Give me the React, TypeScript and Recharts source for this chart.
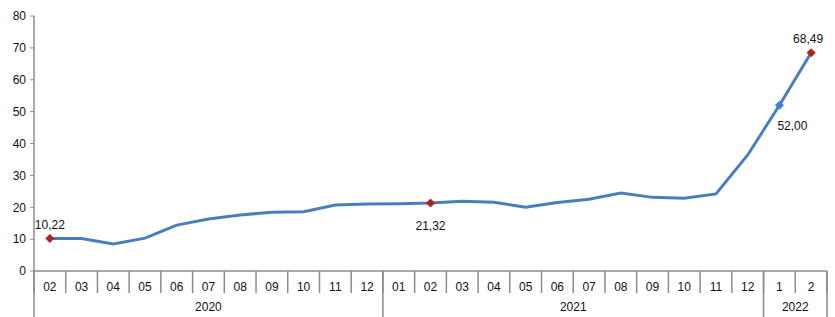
import { Line, LineChart, XAxis, YAxis } from "recharts";

const months = [
  "02", "03", "04", "05", "06", "07", "08", "09", "10", "11", "12",
  "01", "02", "03", "04", "05", "06", "07", "08", "09", "10", "11", "12",
  "1", "2"
];
const years = [
  "2020", "2020", "2020", "2020", "2020", "2020", "2020", "2020", "2020", "2020", "2020",
  "2021", "2021", "2021", "2021", "2021", "2021", "2021", "2021", "2021", "2021", "2021", "2021",
  "2022", "2022"
];
const values = [
  10.22, 10.2, 8.5, 10.3, 14.4, 16.3, 17.6, 18.4, 18.6, 20.7, 21.0,
  21.1, 21.32, 21.9, 21.6, 20.0, 21.5, 22.5, 24.5, 23.1, 22.8, 24.2, 36.4,
  52.0, 68.49
];
// which points get a marker + value label
const markerColors: (string | null)[] = [
  "#b01e1e", null, null, null, null, null, null, null, null, null, null,
  null, "#b01e1e", null, null, null, null, null, null, null, null, null, null,
  "#3a85c8", "#b01e1e"
];
const yTicks = [0, 10, 20, 30, 40, 50, 60, 70, 80];

const data = months.map((m, i) => ({ month: m, year: years[i], value: values[i] }));

const WIDTH = 835;
const HEIGHT = 317;
const PLOT_LEFT = 34;
const PLOT_RIGHT = 827;
const PLOT_BOTTOM = 271;
const BAND = (PLOT_RIGHT - PLOT_LEFT) / months.length;
const AXIS = "#8c8c8c";
const FONT = "'Liberation Sans', Arial, sans-serif";
const FONT_SIZE = 12;

// label offsets relative to the marker, by point index
const labelOffset: Record<number, [number, number]> = {
  0: [0, -9],
  12: [0, 27],
  23: [13, 25],
  24: [-3, -10]
};

function fmt(v: number) {
  return v.toFixed(2).replace(".", ",");
}

function MonthTick(props: any) {
  const { x, payload, index } = props;
  const half = BAND / 2;
  return (
    <g>
      <line x1={x - half} y1={PLOT_BOTTOM} x2={x - half} y2={293} stroke={AXIS} strokeWidth={1.5} />
      {index === months.length - 1 && (
        <line x1={x + half} y1={PLOT_BOTTOM} x2={x + half} y2={293} stroke={AXIS} strokeWidth={1.5} />
      )}
      <text x={x} y={291} textAnchor="middle" fontSize={FONT_SIZE} fontFamily={FONT} fill="#111">
        {payload.value}
      </text>
    </g>
  );
}

function YearTick(props: any) {
  const { x, index } = props;
  const half = BAND / 2;
  const isFirst = index === 0 || years[index] !== years[index - 1];
  const isLast = index === years.length - 1;
  if (!isFirst && !isLast) {
    return <g />;
  }
  let last = index;
  while (last + 1 < years.length && years[last + 1] === years[index]) {
    last++;
  }
  return (
    <g>
      {isFirst && (
        <>
          <line x1={x - half} y1={PLOT_BOTTOM} x2={x - half} y2={HEIGHT} stroke={AXIS} strokeWidth={1.5} />
          <text
            x={x + ((last - index) * BAND) / 2}
            y={311}
            textAnchor="middle"
            fontSize={FONT_SIZE}
            fontFamily={FONT}
            fill="#111"
          >
            {years[index]}
          </text>
        </>
      )}
      {isLast && (
        <line x1={x + half} y1={PLOT_BOTTOM} x2={x + half} y2={HEIGHT} stroke={AXIS} strokeWidth={1.5} />
      )}
    </g>
  );
}

function PointMark(props: any) {
  const { cx, cy, index } = props;
  const color = markerColors[index];
  if (!color) {
    return <g key={`d${index}`} />;
  }
  const [dx, dy] = labelOffset[index] ?? [0, -10];
  return (
    <g key={`d${index}`}>
      <path
        d={`M${cx},${cy - 4} L${cx + 4},${cy} L${cx},${cy + 4} L${cx - 4},${cy} Z`}
        fill={color}
        stroke={color}
      />
      <text x={cx + dx} y={cy + dy} textAnchor="middle" fontSize={FONT_SIZE} fontFamily={FONT} fill="#111">
        {fmt(values[index])}
      </text>
    </g>
  );
}

export default function App() {
  return (
    <div style={{ position: "absolute", left: 0, top: 0, background: "#fff" }}>
      <LineChart
        width={WIDTH}
        height={HEIGHT}
        data={data}
        margin={{ top: 16, right: WIDTH - PLOT_RIGHT, left: 0, bottom: 0 }}
      >
        <XAxis
          dataKey="month"
          height={24}
          interval={0}
          padding={{ left: BAND / 2, right: BAND / 2 }}
          axisLine={{ stroke: AXIS, strokeWidth: 1.5 }}
          tickLine={false}
          tick={<MonthTick />}
        />
        <XAxis
          xAxisId="year"
          dataKey="year"
          height={22}
          interval={0}
          padding={{ left: BAND / 2, right: BAND / 2 }}
          axisLine={false}
          tickLine={false}
          tick={<YearTick />}
        />
        <YAxis
          width={PLOT_LEFT}
          domain={[0, 80]}
          ticks={yTicks}
          interval={0}
          axisLine={{ stroke: AXIS, strokeWidth: 1.5 }}
          tickLine={{ stroke: AXIS }}
          tickSize={4}
          tickMargin={4}
          tick={{ fontSize: FONT_SIZE, fontFamily: FONT, fill: "#111" }}
        />
        <Line
          dataKey="value"
          type="linear"
          stroke="#4a7ebb"
          strokeWidth={3}
          dot={PointMark}
          activeDot={false}
          isAnimationActive={false}
        />
      </LineChart>
    </div>
  );
}
